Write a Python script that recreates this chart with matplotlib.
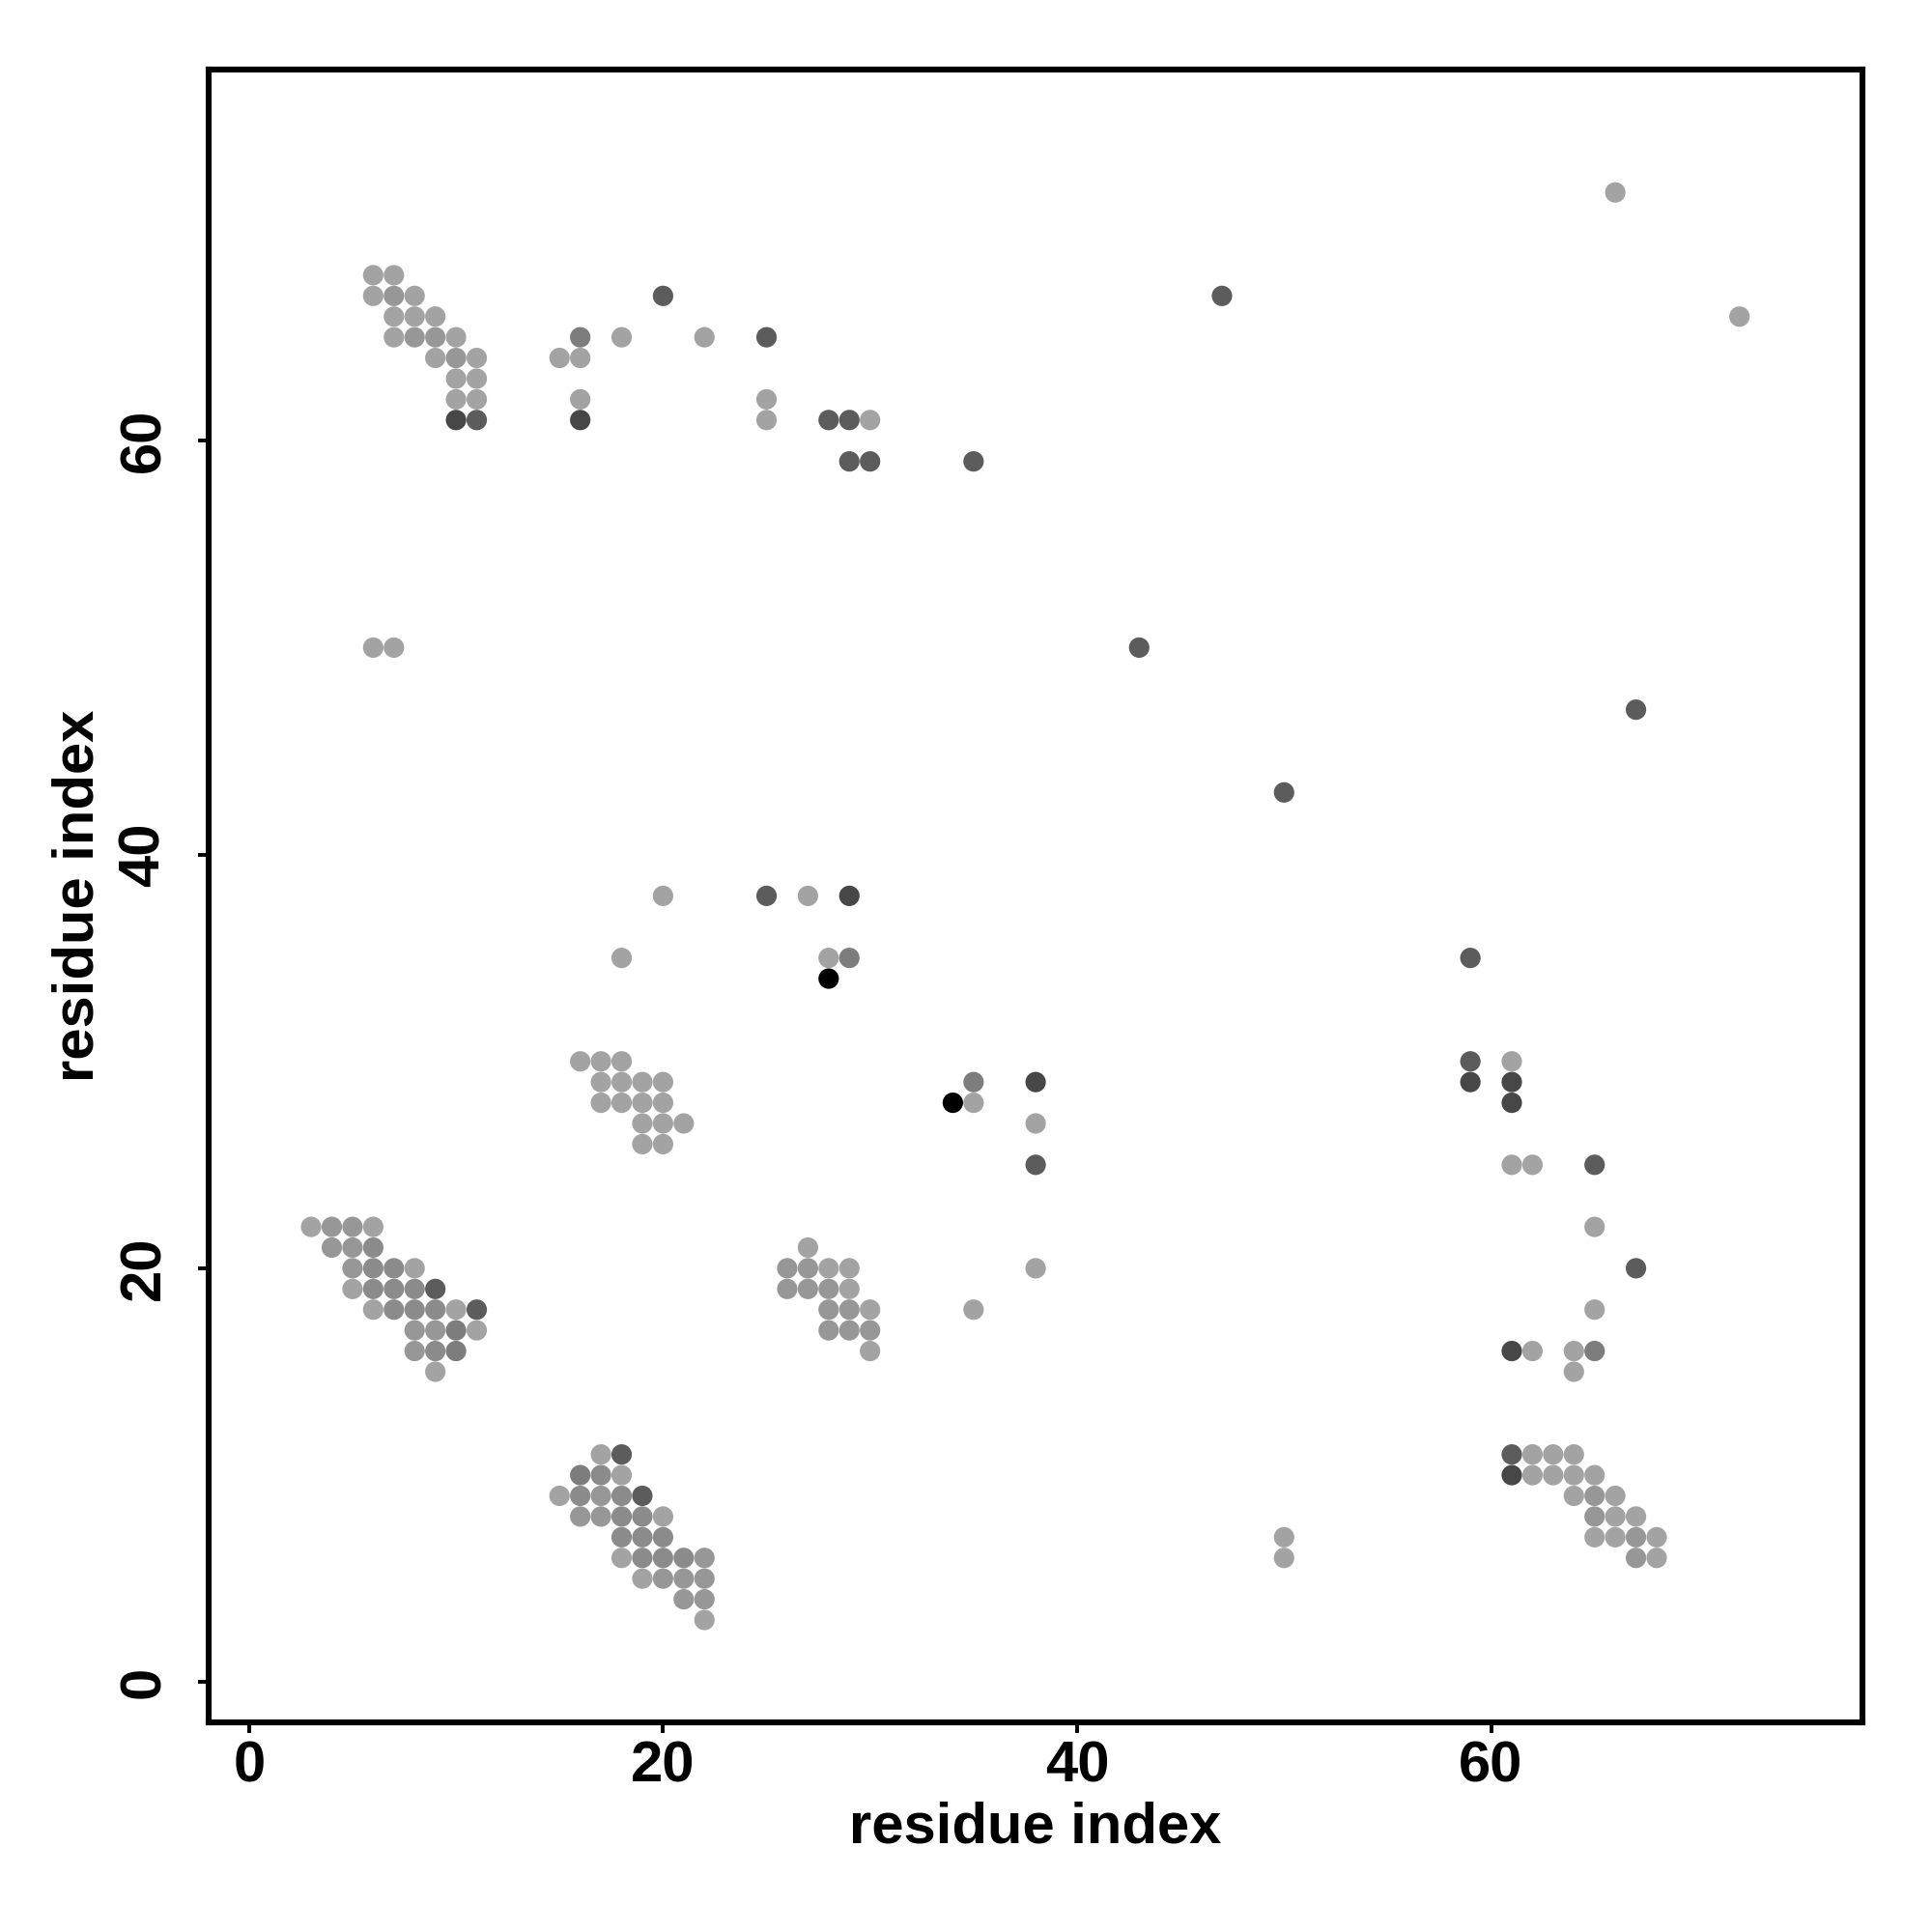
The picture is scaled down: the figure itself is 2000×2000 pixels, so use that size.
import numpy as np
import matplotlib
matplotlib.use("Agg")
import matplotlib.pyplot as plt

# contact map points: residue i (x), residue j (y), intensity level (0 light .. 6 black)
x_res = [
    6, 7, 6, 7, 8, 7, 8, 9, 7, 8, 9, 10, 9, 10, 11, 10, 11, 10, 11, 10, 11,
    15, 16, 16, 18, 22, 16, 16, 20, 25, 25, 25, 28, 29, 30, 29, 30, 35,
    47, 72, 66, 6, 7, 43, 67, 50,
    20, 25, 27, 29, 18, 28, 29, 59, 28,
    16, 17, 18, 17, 18, 19, 20, 35, 38, 17, 18, 19, 20, 34, 35,
    19, 20, 21, 38, 19, 20, 38, 38, 35,
    59, 59, 61, 61, 61, 61, 62, 65, 65, 67, 65, 61, 62, 64, 65, 64,
    61, 62, 63, 64, 61, 62, 63, 64, 65, 64, 65, 66, 65, 66, 67,
    65, 66, 67, 68, 67, 68, 50, 50,
    3, 4, 5, 6, 4, 5, 6, 5, 6, 7, 8, 5, 6, 7, 8, 9,
    6, 7, 8, 9, 10, 11, 8, 9, 10, 11, 8, 9, 10, 9,
    27, 26, 27, 28, 29, 26, 27, 28, 29, 28, 29, 30, 28, 29, 30, 30,
    17, 18, 16, 17, 18, 15, 16, 17, 18, 19, 16, 17, 18, 19, 20,
    18, 19, 20, 18, 19, 20, 21, 22, 19, 20, 21, 22, 21, 22, 22,
]
y_res = [
    68, 68, 67, 67, 67, 66, 66, 66, 65, 65, 65, 65, 64, 64, 64, 63, 63, 62, 62, 61, 61,
    64, 64, 65, 65, 65, 62, 61, 67, 65, 62, 61, 61, 61, 61, 59, 59, 59,
    67, 66, 72, 50, 50, 50, 47, 43,
    38, 38, 38, 38, 35, 35, 35, 35, 34,
    30, 30, 30, 29, 29, 29, 29, 29, 29, 28, 28, 28, 28, 28, 28,
    27, 27, 27, 27, 26, 26, 25, 20, 18,
    30, 29, 30, 29, 28, 25, 25, 25, 22, 20, 18, 16, 16, 16, 16, 15,
    11, 11, 11, 11, 10, 10, 10, 10, 10, 9, 9, 9, 8, 8, 8,
    7, 7, 7, 7, 6, 6, 7, 6,
    22, 22, 22, 22, 21, 21, 21, 20, 20, 20, 20, 19, 19, 19, 19, 19,
    18, 18, 18, 18, 18, 18, 17, 17, 17, 17, 16, 16, 16, 15,
    21, 20, 20, 20, 20, 19, 19, 19, 19, 18, 18, 18, 17, 17, 17, 16,
    11, 11, 10, 10, 10, 9, 9, 9, 9, 9, 8, 8, 8, 8, 8,
    7, 7, 7, 6, 6, 6, 6, 6, 5, 5, 5, 5, 4, 4, 3,
]
level = [
    0, 0, 0, 1, 0, 0, 0, 0, 0, 1, 1, 0, 0, 1, 0, 0, 0, 0, 0, 5, 4,
    0, 0, 3, 0, 0, 0, 5, 4, 4, 0, 0, 4, 4, 0, 4, 4, 4,
    4, 0, 0, 0, 0, 4, 4, 4,
    0, 4, 0, 5, 0, 0, 3, 4, 6,
    0, 0, 0, 0, 0, 0, 0, 3, 5, 0, 0, 0, 0, 6, 0,
    0, 0, 0, 0, 0, 0, 4, 0, 0,
    4, 5, 0, 5, 5, 0, 0, 4, 0, 4, 0, 5, 0, 0, 3, 0,
    4, 0, 0, 0, 5, 0, 0, 0, 0, 0, 1, 0, 1, 0, 0,
    0, 0, 1, 0, 1, 0, 0, 0,
    0, 1, 1, 0, 1, 1, 2, 1, 2, 2, 0, 0, 2, 2, 2, 4,
    0, 2, 2, 2, 0, 4, 1, 1, 3, 0, 1, 2, 3, 0,
    0, 1, 1, 0, 0, 1, 1, 1, 0, 1, 1, 0, 1, 1, 1, 0,
    0, 4, 3, 2, 0, 0, 2, 1, 2, 4, 1, 1, 2, 2, 0,
    2, 2, 2, 0, 2, 2, 2, 1, 0, 1, 1, 1, 1, 1, 0,
]
x_ticks = [0, 20, 40, 60]
y_ticks = [0, 20, 40, 60]
x_label = "residue index"
y_label = "residue index"

grey_levels = ["#a3a3a3", "#979797", "#8b8b8b", "#7d7d7d", "#5c5c5c", "#474747", "#000000"]
colors = [grey_levels[l] for l in level]

plt.rcParams["font.family"] = ["Liberation Sans", "DejaVu Sans"]
plt.rcParams["font.weight"] = "bold"

fig = plt.figure(figsize=(10, 10), dpi=200)
ax = fig.add_axes([0.108, 0.1085, 0.856, 0.8555])
ax.scatter(x_res, y_res, s=58, c=colors, edgecolors="none", zorder=3)

ax.set_xlim(-1.95, 77.94)
ax.set_ylim(-1.95, 77.94)
ax.set_xticks(x_ticks)
ax.set_yticks(y_ticks)
ax.set_xticklabels([str(t) for t in x_ticks], fontsize=21.5, fontweight="bold")
ax.set_yticklabels([str(t) for t in y_ticks], fontsize=21.5, fontweight="bold",
                   rotation=90, va="center")
ax.tick_params(axis="both", direction="out", length=4, width=1.4, color="black")
ax.tick_params(axis="x", pad=2.5)
ax.tick_params(axis="y", pad=10)
for sp in ax.spines.values():
    sp.set_linewidth(2.2)
    sp.set_color("black")

ax.set_xlabel(x_label, fontsize=21.5, fontweight="bold")
ax.set_ylabel(y_label, fontsize=21.5, fontweight="bold")
ax.xaxis.label.set_va("center")
ax.yaxis.label.set_va("center")
ax.xaxis.set_label_coords(0.5, -0.0637)
ax.yaxis.set_label_coords(-0.0789, 0.5)

fig.savefig("out.png", dpi=200, facecolor="white")
